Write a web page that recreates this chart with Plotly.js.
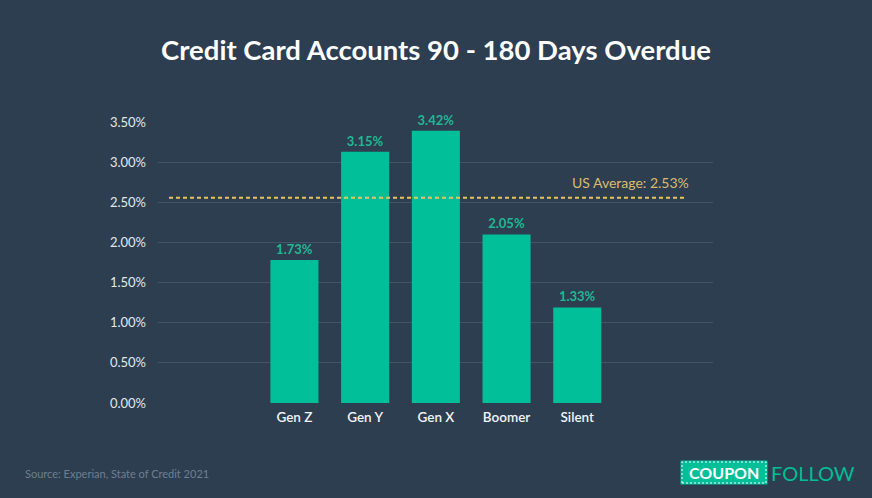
<!DOCTYPE html>
<html>
<head>
<meta charset="utf-8">
<script src="https://cdn.plot.ly/plotly-3.0.1.min.js"></script>
<style>
html,body{margin:0;padding:0;background:#2c3e50;}
#chart{width:872px;height:498px;}
</style>
</head>
<body>
<div id="chart"></div>
<script>
// ---- data ----
const generations = ["Gen Z", "Gen Y", "Gen X", "Boomer", "Silent"];
const barValues = [1.78, 3.13, 3.39, 2.10, 1.19];          // bar heights as drawn (%)
const barLabels = ["1.73%", "3.15%", "3.42%", "2.05%", "1.33%"];
const usAverageLine = 2.555;                               // drawn position of average line (%)
const usAverageLabel = "US Average: 2.53%";
const yTickVals = [0, 0.5, 1, 1.5, 2, 2.5, 3, 3.5];
const yTickText = ["0.00%", "0.50%", "1.00%", "1.50%", "2.00%", "2.50%", "3.00%", "3.50%"];

const BG = "#2c3e50";
const TEAL = "#00bf99";
const FONT = "Lato, 'Open Sans', sans-serif";

// paper coordinate helpers (plot area: left 158, top 122, width 555, height 281)
const L = 158, T = 122, W = 555, H = 281;
const px = v => (v - L) / W;
const py = v => (T + H - v) / H;

const trace = {
  type: "bar",
  x: generations,
  y: barValues,
  text: barLabels,
  textposition: "outside",
  constraintext: "none",
  cliponaxis: false,
  textfont: {family: FONT, size: 13, color: "#1fb894", weight: 700},
  marker: {color: TEAL, line: {width: 0}},
  width: 0.68,
  hoverinfo: "none"
};

const layout = {
  width: 872, height: 498,
  paper_bgcolor: BG, plot_bgcolor: BG,
  margin: {l: L, r: 872 - L - W, t: T, b: 498 - T - H},
  showlegend: false,
  font: {family: FONT},
  title: {
    text: "<b>Credit Card Accounts 90 - 180 Days Overdue</b>",
    font: {family: "Lato, sans-serif", size: 27.5, color: "#ffffff", weight: 900},
    x: 0.5, xanchor: "center", xref: "container",
    y: 1 - 50 / 498, yanchor: "middle", yref: "container"
  },
  xaxis: {
    type: "category",
    range: [-1.93, 5.92],
    showgrid: false, zeroline: false, showline: false,
    ticks: "", ticklabelstandoff: 4,
    tickfont: {family: FONT, size: 13.5, color: "#f2f4f7", weight: 600},
    fixedrange: true
  },
  yaxis: {
    range: [0, 3.5],
    tickvals: yTickVals, ticktext: yTickText,
    showgrid: true, gridcolor: "#43546a", gridwidth: 1,
    zeroline: false, showline: false, ticks: "",
    ticklabelstandoff: 11,
    tickfont: {family: FONT, size: 13, color: "#e3e7ec"},
    fixedrange: true
  },
  shapes: [
    {type: "line", xref: "paper", yref: "y", x0: px(169), x1: px(687),
     y0: usAverageLine, y1: usAverageLine,
     line: {color: "#e9c35c", width: 2, dash: "4px,3px"}},
    // logo box
    {type: "rect", xref: "paper", yref: "paper",
     x0: px(680.5), x1: px(767.5), y0: py(484.5), y1: py(460.5),
     fillcolor: TEAL, line: {width: 0}},
    {type: "rect", xref: "paper", yref: "paper",
     x0: px(682), x1: px(766), y0: py(483), y1: py(462),
     fillcolor: "rgba(0,0,0,0)", line: {color: "#ffffff", width: 1, dash: "2px,2px"}}
  ],
  annotations: [
    {text: usAverageLabel, xref: "paper", yref: "y", x: px(691), y: usAverageLine,
     xanchor: "right", yanchor: "bottom", yshift: 5, showarrow: false,
     font: {family: FONT, size: 14, color: "#dcbb6c"}},
    {text: "Source: Experian, State of Credit 2021", xref: "paper", yref: "paper",
     x: px(23), y: py(473), xanchor: "left", yanchor: "middle", showarrow: false,
     font: {family: FONT, size: 11, color: "#6f7e90"}},
    {text: "<b>COUPON</b>", xref: "paper", yref: "paper",
     x: px(724), y: py(472.5), xanchor: "center", yanchor: "middle", showarrow: false,
     font: {family: FONT, size: 16, color: "#ffffff", weight: 900}},
    {text: "FOLLOW", xref: "paper", yref: "paper",
     x: px(769), y: py(472.5), xanchor: "left", yanchor: "middle", showarrow: false,
     font: {family: FONT, size: 20, color: TEAL}}
  ]
};

Plotly.newPlot("chart", [trace], layout, {displayModeBar: false, staticPlot: true});
</script>
</body>
</html>
